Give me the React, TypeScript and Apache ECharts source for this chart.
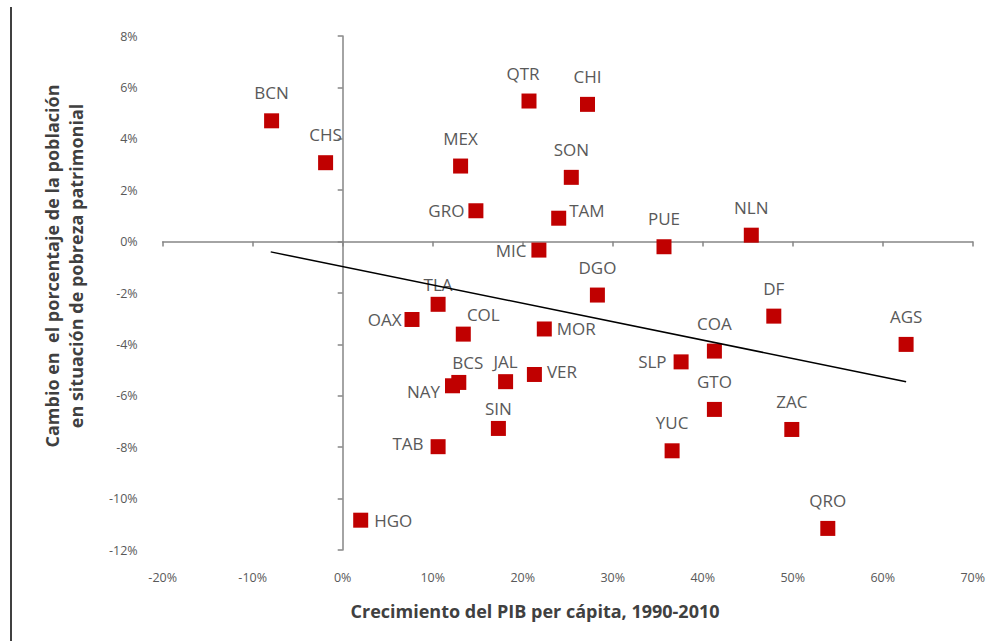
import React, { useEffect, useRef } from "react";
import * as echarts from "echarts";

// Mexican states: GDP per capita growth 1990-2010 (%) vs change in patrimonial poverty (%)
const states = ["BCN", "CHS", "MEX", "QTR", "CHI", "SON", "GRO", "TAM", "MIC", "PUE", "NLN", "DGO", "TLA", "OAX", "COL", "MOR", "DF", "AGS", "COA", "SLP", "BCS", "NAY", "JAL", "VER", "GTO", "SIN", "TAB", "YUC", "ZAC", "HGO", "QRO"];
const gdpGrowth = [-7.9, -1.9, 13.1, 20.7, 27.2, 25.4, 14.8, 24.0, 21.8, 35.7, 45.4, 28.3, 10.6, 7.7, 13.4, 22.4, 47.9, 62.6, 41.3, 37.6, 12.9, 12.2, 18.1, 21.3, 41.3, 17.3, 10.6, 36.6, 49.9, 2.0, 53.9];
const povertyChange = [4.7, 3.07, 2.94, 5.47, 5.34, 2.5, 1.2, 0.91, -0.33, -0.2, 0.25, -2.08, -2.44, -3.03, -3.6, -3.4, -2.9, -4.0, -4.26, -4.68, -5.48, -5.61, -5.45, -5.17, -6.53, -7.27, -7.98, -8.14, -7.31, -10.84, -11.16];

// Linear trend line endpoints (x %, y %)
const trendX = [-8.0, 62.6];
const trendY = [-0.4, -5.45];

const xTicks = { min: -20, max: 70, interval: 10 };
const yTicks = { min: -12, max: 8, interval: 2 };

const xTitle = "Crecimiento del PIB per cápita, 1990-2010";
const yTitle = "Cambio en  el porcentaje de la población\nen situación de pobreza patrimonial";

// label placement per state: [position, distance, dx, dy]
const labelLayout: Record<string, [string, number, number, number]> = {
  QTR: ["top", 12, -6, 0],
  TLA: ["top", 4, 0, 0],
  JAL: ["top", 4, 0, 0],
  SIN: ["top", 4, 0, 0],
  BCS: ["top", 4, 9, 0],
  COL: ["top", 4, 20, 0],
  GRO: ["left", 4, 0, 0],
  MIC: ["left", 5, 0, 0],
  OAX: ["left", 3, 0, 0],
  TAB: ["left", 7, 0, -3],
  SLP: ["left", 7, 0, 0],
  NAY: ["left", 5, 0, 6],
  TAM: ["right", 3, 0, -8],
  MOR: ["right", 5, 0, 0],
  VER: ["right", 5, 0, -3],
  HGO: ["right", 6, 0, 0],
};

const FONT = "'Open Sans', 'Noto Sans', sans-serif";
const GRAY = "#595959";
const AXIS = "#868686";

export default function App() {
  const ref = useRef<HTMLDivElement>(null);
  useEffect(() => {
    if (!ref.current) return;
    const chart = echarts.init(ref.current, undefined, { renderer: "svg" });
    const points = states.map((name, i) => {
      const lay = labelLayout[name] || ["top", 12, 0, 0];
      return {
        name,
        value: [gdpGrowth[i], povertyChange[i]],
        label: { position: lay[0], distance: lay[1], offset: [lay[2], lay[3]] },
      };
    });
    const trend = trendX.map((x, i) => [x, trendY[i]]);
    const baseX = { type: "value", min: xTicks.min, max: xTicks.max, interval: xTicks.interval, position: "bottom", splitLine: { show: false } };
    const baseY = { type: "value", min: yTicks.min, max: yTicks.max, interval: yTicks.interval, position: "left", splitLine: { show: false } };
    chart.setOption({
      animation: false,
      backgroundColor: "#ffffff",
      grid: { left: 162.7, right: 21.3, top: 36, bottom: 91, containLabel: false },
      xAxis: [
        {
          ...baseX,
          axisLine: { show: false, onZero: false },
          axisTick: { show: false },
          axisLabel: { formatter: "{value}%", margin: 21, color: GRAY, fontSize: 12.5, fontFamily: FONT },
        },
        {
          ...baseX,
          axisLine: { show: true, onZero: true, onZeroAxisIndex: 0, lineStyle: { color: AXIS, width: 1.5 } },
          axisTick: { show: true, length: 5, lineStyle: { color: AXIS, width: 1.5 } },
          axisLabel: { show: false },
        },
      ],
      yAxis: [
        {
          ...baseY,
          axisLine: { show: false, onZero: false },
          axisTick: { show: false },
          axisLabel: { formatter: "{value}%", margin: 25, color: GRAY, fontSize: 12.5, fontFamily: FONT },
        },
        {
          ...baseY,
          axisLine: { show: true, onZero: true, onZeroAxisIndex: 0, lineStyle: { color: AXIS, width: 1.5 } },
          axisTick: { show: true, length: 5, lineStyle: { color: AXIS, width: 1.5 } },
          axisLabel: { show: false },
        },
      ],
      series: [
        {
          type: "scatter",
          xAxisIndex: 0,
          yAxisIndex: 0,
          symbol: "rect",
          symbolSize: 15,
          itemStyle: { color: "#C00000", opacity: 1 },
          label: { show: true, formatter: "{b}", color: GRAY, fontSize: 17, fontFamily: FONT },
          data: points,
        },
        {
          type: "line",
          xAxisIndex: 0,
          yAxisIndex: 0,
          symbol: "none",
          lineStyle: { color: "#000000", width: 1.5 },
          data: trend,
          silent: true,
        },
      ],
      graphic: [
        { type: "line", shape: { x1: 11, y1: 7, x2: 11, y2: 641 }, style: { stroke: "#404040", lineWidth: 2 } },
        {
          type: "text",
          x: 64,
          y: 266,
          rotation: Math.PI / 2,
          style: { text: yTitle, align: "center", verticalAlign: "middle", fill: "#404040", font: `bold 18px ${FONT}`, lineHeight: 24 },
        },
        {
          type: "text",
          x: 535,
          y: 611,
          style: { text: xTitle, align: "center", verticalAlign: "middle", fill: "#404040", font: `bold 18px ${FONT}` },
        },
      ],
    });
    return () => chart.dispose();
  }, []);
  return <div ref={ref} style={{ position: "fixed", left: 0, top: 0, width: 994, height: 641, background: "#fff" }} />;
}
